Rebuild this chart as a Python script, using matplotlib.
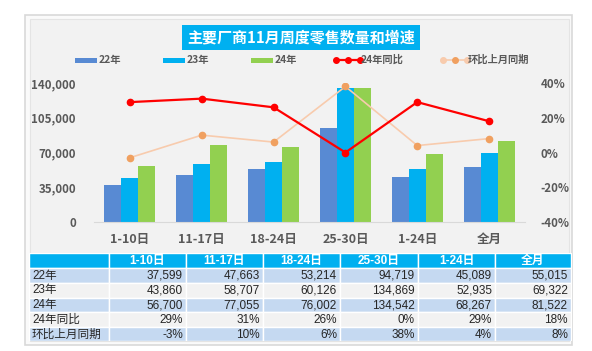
import matplotlib
matplotlib.use("Agg")
import matplotlib.pyplot as plt
from matplotlib.patches import Rectangle
from matplotlib.lines import Line2D
import numpy as np

plt.rcParams['font.family'] = ['Noto Sans CJK SC', 'DejaVu Sans']
TABLE_FONT = ['Liberation Sans', 'Noto Sans CJK SC']

categories = ["1-10日", "11-17日", "18-24日", "25-30日", "1-24日", "全月"]
s22 = [37599, 47663, 53214, 94719, 45089, 55015]
s23 = [43860, 58707, 60126, 134869, 52935, 69322]
s24 = [56700, 77055, 76002, 134542, 68267, 81522]
yoy24 = [29, 31, 26, 0, 29, 18]
mom = [-3, 10, 6, 38, 4, 8]
left_ticks = [0, 35000, 70000, 105000, 140000]
right_ticks = [-40, -20, 0, 20, 40]
title = "主要厂商11月周度零售数量和增速"
series_names = ["22年", "23年", "24年", "24年同比", "环比上月同期"]

C22 = "#588AD3"
C23 = "#00B0F0"
C24 = "#92D050"
CRED = "#FF0000"
CORL = "#F8CBAD"
CORM = "#F0A060"
TXT = "#595959"

W, H = 592, 351
fig = plt.figure(figsize=(W / 100, H / 100), dpi=100)
fig.patch.set_facecolor("white")

def fx(px):
    return px / W

def fy(py):
    return 1 - py / H

# panel background
bg = fig.add_axes([0, 0, 1, 1], zorder=-10)
bg.set_xlim(0, W)
bg.set_ylim(H, 0)
bg.axis("off")
bg.add_patch(Rectangle((25, 15), 547, 330, facecolor="#FAFAFA", edgecolor="#D9D9D9", lw=1.2))
bg.add_patch(Rectangle((29.5, 19), 539, 322, facecolor="#F2F2F2", edgecolor="#E4E4E4", lw=0.8))
# title box
bg.add_patch(Rectangle((182, 25), 238, 25, facecolor="#00B0F0", edgecolor="none"))
bg.text(301, 37.5, title, color="white", fontsize=10.8, fontweight="bold", ha="center", va="center")

# legend
leg_y = 60
patch_items = [(75, 0), (163, 1), (251, 2)]
cols = [C22, C23, C24]
for x0, i in patch_items:
    bg.add_patch(Rectangle((x0, leg_y - 2.5), 22, 5, facecolor=cols[i], edgecolor="none"))
    bg.text(x0 + 24, leg_y, series_names[i], color=TXT, fontsize=7.4, fontweight="bold", ha="left", va="center")
# red line legend
bg.add_line(Line2D([336, 348, 360], [leg_y] * 3, color=CRED, lw=1.6, marker="o", ms=4, mfc=CRED, mec=CRED))
bg.text(361, leg_y, series_names[3], color=TXT, fontsize=7.4, fontweight="bold", ha="left", va="center")
bg.add_line(Line2D([443, 455, 467], [leg_y] * 3, color=CORL, lw=1.2))
bg.add_line(Line2D([443, 467], [leg_y] * 2, color=CORL, lw=0, marker="o", ms=4, mfc=CORL, mec=CORL))
bg.add_line(Line2D([455], [leg_y], color=CORM, lw=0, marker="o", ms=4, mfc=CORM, mec=CORM))
bg.text(468, leg_y, series_names[4], color=TXT, fontsize=7.4, fontweight="bold", ha="left", va="center")

# main chart
ax = fig.add_axes([fx(94), fy(222), fx(525) - fx(94), fy(83) - fy(222)])
ax.set_facecolor("none")
x = np.arange(len(categories))
w = 0.237
ax.bar(x - w, s22, w, color=C22, zorder=2)
ax.bar(x, s23, w, color=C23, zorder=2)
ax.bar(x + w, s24, w, color=C24, zorder=2)
ax.set_xlim(-0.5, len(categories) - 0.5)
ax.set_ylim(0, 140000)
ax.set_yticks(left_ticks)
ax.set_yticklabels([f"{v:,}" for v in left_ticks])
ax.set_xticks(x)
ax.set_xticklabels(categories)
for s in ["top", "right", "left"]:
    ax.spines[s].set_visible(False)
ax.spines["bottom"].set_color("#D9D9D9")
ax.tick_params(axis="y", length=0, pad=13, labelsize=8.3, labelcolor=TXT)
ax.tick_params(axis="x", length=0, pad=8, labelsize=9, labelcolor=TXT)
for lab in ax.get_yticklabels() + ax.get_xticklabels():
    lab.set_fontweight("bold")

ax2 = ax.twinx()
ax2.set_ylim(-40, 40)
ax2.set_yticks(right_ticks)
ax2.set_yticklabels([f"{v}%" for v in right_ticks])
for s in ["top", "right", "left", "bottom"]:
    ax2.spines[s].set_visible(False)
ax2.tick_params(axis="y", length=0, pad=11, labelsize=8.3, labelcolor=TXT)
for lab in ax2.get_yticklabels():
    lab.set_fontweight("bold")
ax2.plot(x, mom, color=CORL, lw=1.2, zorder=3)
ax2.plot(x, mom, lw=0, marker="o", ms=4.5, mfc=CORM, mec=CORM, zorder=4)
ax2.plot(x, yoy24, color=CRED, lw=1.6, marker="o", ms=4.5, mfc=CRED, mec=CRED, zorder=5)

# table
tb = fig.add_axes([fx(29), fy(341), fx(572) - fx(29), fy(253) - fy(341)])
tb.set_xlim(29, 572)
tb.set_ylim(341, 253)
tb.axis("off")
col_edges = [29, 109, 186, 263, 340, 418, 495, 571]
row_edges = [253, 267.5, 282.5, 297.5, 312, 327, 341]
row_labels = series_names
row_vals = [
    [f"{v:,}" for v in s22],
    [f"{v:,}" for v in s23],
    [f"{v:,}" for v in s24],
    [f"{v}%" for v in yoy24],
    [f"{v}%" for v in mom],
]
row_bg = ["#C5D9F1", "#F2F2F2", "#C5D9F1", "#F2F2F2", "#C5D9F1"]
# header
for j in range(len(col_edges) - 1):
    tb.add_patch(Rectangle((col_edges[j], row_edges[0]), col_edges[j + 1] - col_edges[j],
                           row_edges[1] - row_edges[0], facecolor="#00B0F0", edgecolor="white", lw=1))
    if j > 0:
        tb.text((col_edges[j] + col_edges[j + 1]) / 2, (row_edges[0] + row_edges[1]) / 2 + 0.5,
                categories[j - 1], color="white", fontsize=8.5, fontweight="bold", ha="center", va="center",
                family=TABLE_FONT)
for i in range(5):
    y0, y1 = row_edges[i + 1], row_edges[i + 2]
    for j in range(len(col_edges) - 1):
        tb.add_patch(Rectangle((col_edges[j], y0), col_edges[j + 1] - col_edges[j], y1 - y0,
                               facecolor=row_bg[i], edgecolor="white", lw=1))
    tb.text(col_edges[0] + 3, (y0 + y1) / 2 + 0.5, row_labels[i], color="#262626", fontsize=8.4,
            ha="left", va="center", family=TABLE_FONT)
    for j in range(6):
        tb.text(col_edges[j + 2] - 3, (y0 + y1) / 2 + 0.5, row_vals[i][j], color="#262626", fontsize=8.5,
                ha="right", va="center", family=TABLE_FONT)

fig.savefig("out.png", dpi=100, facecolor="white")
